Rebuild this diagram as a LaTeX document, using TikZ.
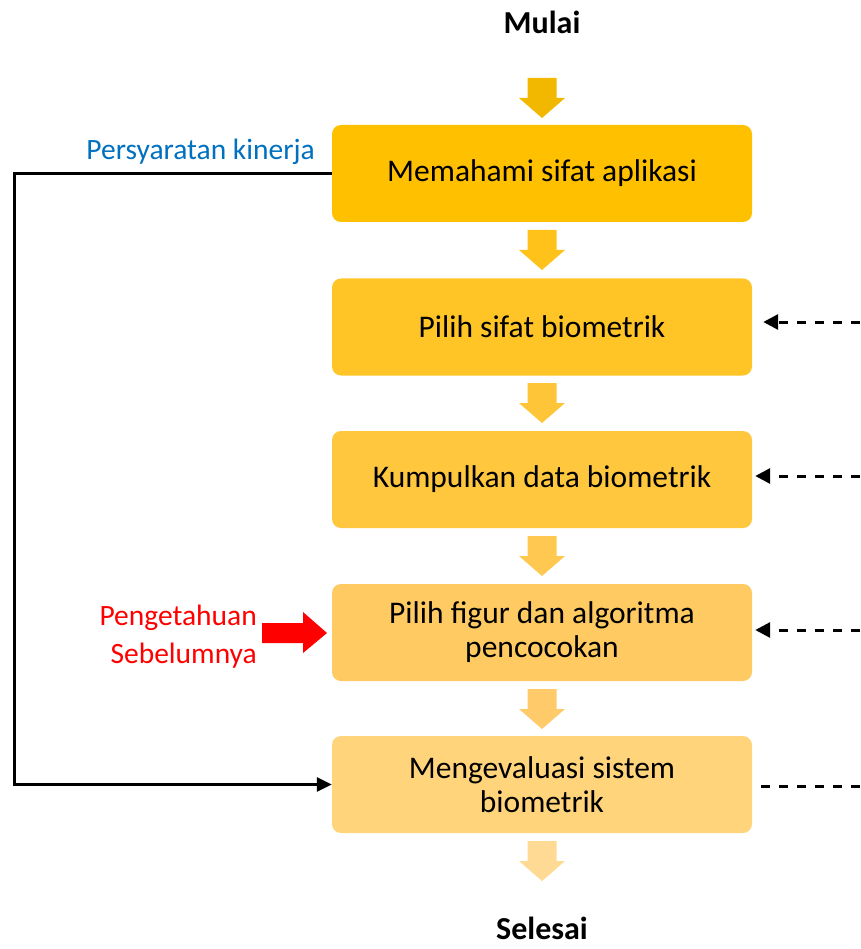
\documentclass[tikz,border=0pt]{standalone}
\usepackage{fontspec}
\setmainfont{Carlito}
\usetikzlibrary{arrows.meta}
\definecolor{c1}{HTML}{FFC000}
\definecolor{c2}{HTML}{FFC425}
\definecolor{c3}{HTML}{FFC73D}
\definecolor{c4}{HTML}{FFCA61}
\definecolor{c5}{HTML}{FFD47A}
\definecolor{a1}{HTML}{F2B800}
\definecolor{a2}{HTML}{FFC21A}
\definecolor{a3}{HTML}{FFC538}
\definecolor{a4}{HTML}{FFC850}
\definecolor{a5}{HTML}{FFCB6A}
\definecolor{a6}{HTML}{FFDA94}
\definecolor{bluetxt}{HTML}{0070C0}
\tikzset{
  box/.style={rounded corners=9pt, minimum width=420pt, minimum height=97pt, inner sep=0pt, align=center, font=\fontsize{31.5}{34}\selectfont, text=black},
  lbl/.style={font=\fontsize{29.5}{38}\selectfont, inner sep=0pt},
  ttl/.style={font=\bfseries\fontsize{32}{36}\selectfont, inner sep=0pt},
  dashline/.style={line width=3pt, dash pattern=on 9pt off 9pt},
  solidline/.style={line width=3pt},
  dtip/.style={-{Triangle[length=15pt,width=15pt]}},
}
\newcommand{\blockarrow}[3]{% center x, top y, color
  \fill[#3] (#1-14.5,#2) -- (#1+14.5,#2) -- (#1+14.5,#2+20) -- (#1+23,#2+20) -- (#1,#2+40) -- (#1-23,#2+20) -- (#1-14.5,#2+20) -- cycle;}
\begin{document}
\begin{tikzpicture}[x=1pt,y=-1pt]
\useasboundingbox (0,0) rectangle (860,949);
\node[ttl] (mulai) at (542,22) {Mulai};
\node[ttl] (selesai) at (542,928) {Selesai};

\node[box, fill=c1] (b1) at (542,173.5) {Memahami sifat aplikasi};
\node[box, fill=c2] (b2) at (542,327) {Pilih sifat biometrik};
\node[box, fill=c3] (b3) at (542,479.5) {Kumpulkan data biometrik};
\node[box, fill=c4] (b4) at (542,632.5) {Pilih figur dan algoritma\\pencocokan};
\node[box, fill=c5] (b5) at (542,784.5) {Mengevaluasi sistem\\biometrik};

\blockarrow{542}{78}{a1}
\blockarrow{542}{230}{a2}
\blockarrow{542}{383}{a3}
\blockarrow{542}{536}{a4}
\blockarrow{542}{689}{a5}
\blockarrow{542}{841}{a6}

% left feedback line
\coordinate (lc) at (14,0);
\draw[solidline, -{Triangle[length=15pt,width=14pt]}] (b1.west) -- (b1.west -| lc) |- (b5.west);
\node[lbl, text=bluetxt, anchor=east] (req) at (315,152) {Persyaratan kinerja};

% prior knowledge
\node[lbl, text=red, anchor=east, align=right] (prior) at (257,637) {Pengetahuan\\Sebelumnya};
\fill[red] (262,623) -- (303,623) -- (303,612) -- (327,633) -- (303,653) -- (303,643) -- (262,643) -- cycle;

% right dashed lines
\coordinate (r2) at (860,322);
\coordinate (r3) at (860,476);
\coordinate (r4) at (860,630);
\coordinate (r5) at (860,786);
\draw[dashline, dtip] (r2) -- ([xshift=11pt]r2 -| b2.east);
\draw[dashline, dtip] (r3) -- ([xshift=3pt]r3 -| b3.east);
\draw[dashline, dtip] (r4) -- ([xshift=3pt]r4 -| b4.east);
\draw[dashline] (r5) -- ([xshift=3pt]r5 -| b5.east);
\end{tikzpicture}
\end{document}
